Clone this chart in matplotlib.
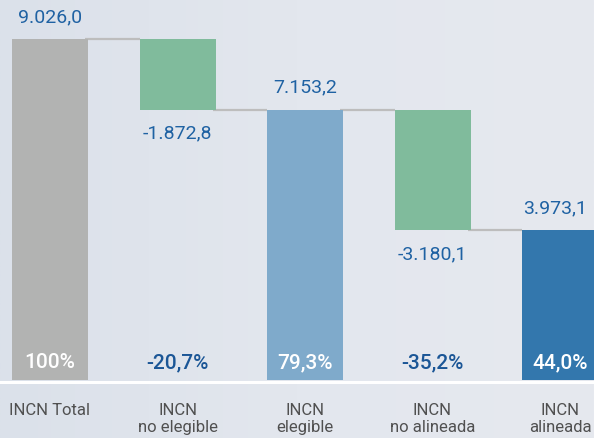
import matplotlib
matplotlib.use('Agg')
import matplotlib.pyplot as plt
import numpy as np
from matplotlib.colors import LinearSegmentedColormap

plt.rcParams['font.family'] = ['Roboto', 'DejaVu Sans']

# data
categories = ['INCN Total', 'INCN\nno elegible', 'INCN\nelegible', 'INCN\nno alineada', 'INCN\nalineada']
values = [9026.0, -1872.8, 7153.2, -3180.1, 3973.1]
is_total = [True, False, True, False, True]
value_labels = ['9.026,0', '-1.872,8', '7.153,2', '-3.180,1', '3.973,1']
pct_labels = ['100%', '-20,7%', '79,3%', '-35,2%', '44,0%']
bar_colors = ['#b2b3b2', '#80bb9c', '#7faacb', '#80bb9c', '#3377ad']

text_blue = '#1f62a3'
pct_blue = '#1b5696'

# figure in pixel-like units
fig = plt.figure(figsize=(5.94, 4.39), dpi=100)
ax = fig.add_axes([0, 0, 1, 1])

step = 127.5     # px between bars
px = 9026.0 / 341.0   # data units per pixel
x0 = -50 / step
x1 = (594 - 50) / step
y0 = -58 * px
y1 = 381 * px
ax.set_xlim(x0, x1)
ax.set_ylim(y0, y1)
ax.axis('off')

# soft background gradient
grad = np.linspace(0, 1, 256).reshape(1, -1)
bg_cmap = LinearSegmentedColormap.from_list('bg', ['#dbe1ea', '#e3e7ee', '#e6e9ef'])
ax.imshow(grad, extent=[x0, x1, y0, y1], aspect='auto', cmap=bg_cmap, zorder=0)

x = np.arange(len(values))
w = 76 / step

bottoms = []
tops = []
running = 0.0
for i, v in enumerate(values):
    if is_total[i]:
        b, t = 0.0, v
        running = v
    else:
        b, t = running + v, running
        running = running + v
    bottoms.append(b)
    tops.append(t)

ax.bar(x, np.array(tops) - np.array(bottoms), bottom=bottoms, width=w,
       color=bar_colors, zorder=3)

# connector lines
for i in range(len(values) - 1):
    level = tops[i] if is_total[i] else bottoms[i]
    ax.plot([x[i] + w / 2 - 0.02, x[i + 1] - w / 2], [level, level],
            color='#bdbdbd', lw=1.6, zorder=2, solid_capstyle='butt')

# value labels (last one nudged left a little, like the original)
for i in range(len(values)):
    xt = x[i] - (5 / step if i == len(values) - 1 else 0)
    if is_total[i]:
        ax.text(xt, tops[i] + 14 * px, value_labels[i], ha='center', va='bottom',
                fontsize=14, color=text_blue, zorder=4)
    else:
        ax.text(xt, bottoms[i] - 14 * px, value_labels[i], ha='center', va='top',
                fontsize=14, color=text_blue, zorder=4)

# percentage labels
for i in range(len(values)):
    col = 'white' if is_total[i] else pct_blue
    ax.text(x[i], 18 * px, pct_labels[i], ha='center', va='center',
            fontsize=15, fontweight='medium', color=col, zorder=4)

# baseline
ax.axhline(-1.5 * px, color='white', lw=2.2, zorder=5)

# category labels
for i in range(len(values)):
    ax.text(x[i], -22.5 * px, categories[i], ha='center', va='top',
            fontsize=12, color='#505050', linespacing=1.15, zorder=4)

fig.savefig('out.png', dpi=100)
